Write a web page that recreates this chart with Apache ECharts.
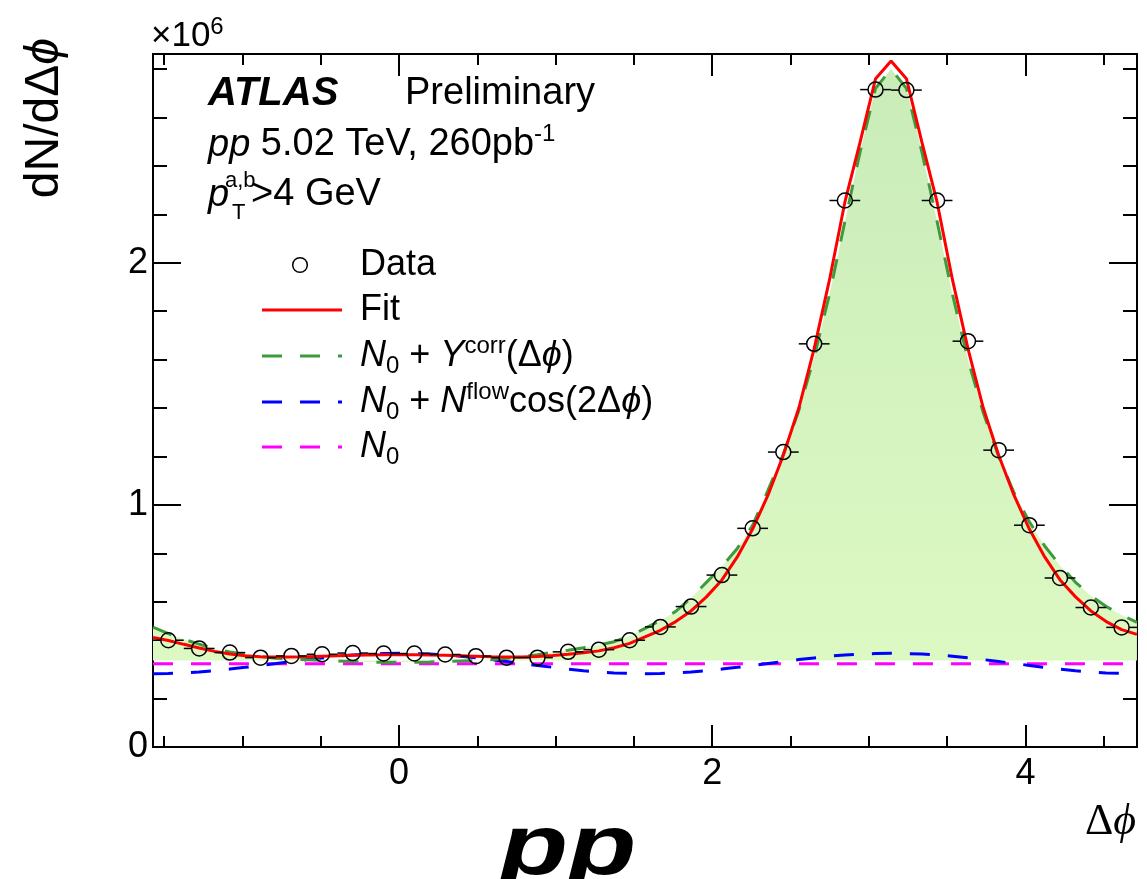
<!DOCTYPE html>
<html>
<head>
<meta charset="utf-8">
<script src="https://cdn.jsdelivr.net/npm/echarts@6.0.0/dist/echarts.min.js"></script>
<style>
  html, body { margin: 0; padding: 0; background: #fff; }
  #chart { width: 1147px; height: 879px; }
</style>
</head>
<body>
<div id="chart"></div>
<script>
// data points (bin centres of 32 bins in dphi)
const dataX = [-1.473, -1.276, -1.080, -0.884, -0.687, -0.491, -0.295, -0.098,
  0.098, 0.295, 0.491, 0.687, 0.884, 1.080, 1.276, 1.473,
  1.669, 1.865, 2.062, 2.258, 2.454, 2.651, 2.847, 3.043,
  3.240, 3.436, 3.633, 3.829, 4.025, 4.221, 4.418, 4.614];
const dataY = [0.441, 0.407, 0.390, 0.369, 0.376, 0.383, 0.388, 0.386,
  0.386, 0.382, 0.375, 0.369, 0.369, 0.393, 0.402, 0.441,
  0.496, 0.580, 0.710, 0.903, 1.218, 1.665, 2.257, 2.715,
  2.713, 2.257, 1.676, 1.226, 0.916, 0.698, 0.576, 0.494];
const binHalfWidth = 0.0982;

// curves at the same x positions
const curveX = [-1.571, -1.473, -1.374, -1.276, -1.178, -1.080, -0.982, -0.884,
  -0.785, -0.687, -0.589, -0.491, -0.393, -0.295, -0.196, -0.098,
  0.000, 0.098, 0.196, 0.295, 0.393, 0.491, 0.589, 0.687,
  0.785, 0.884, 0.982, 1.080, 1.178, 1.276, 1.374, 1.473,
  1.571, 1.669, 1.767, 1.865, 1.963, 2.062, 2.160, 2.258,
  2.356, 2.454, 2.553, 2.651, 2.749, 2.847, 2.945, 3.043,
  3.142, 3.240, 3.338, 3.436, 3.534, 3.633, 3.731, 3.829,
  3.927, 4.025, 4.123, 4.221, 4.320, 4.418, 4.516, 4.614, 4.712];
const fitY = [0.452, 0.440, 0.424, 0.409, 0.395, 0.384, 0.377, 0.373,
  0.372, 0.372, 0.373, 0.375, 0.377, 0.379, 0.380, 0.381,
  0.381, 0.381, 0.380, 0.379, 0.377, 0.375, 0.373, 0.372,
  0.372, 0.374, 0.378, 0.383, 0.389, 0.397, 0.410, 0.428,
  0.455, 0.482, 0.518, 0.562, 0.620, 0.690, 0.785, 0.900,
  1.040, 1.205, 1.400, 1.645, 1.930, 2.250, 2.500, 2.760,
  2.833, 2.760, 2.500, 2.250, 1.930, 1.645, 1.400, 1.205,
  1.040, 0.900, 0.785, 0.690, 0.620, 0.562, 0.518, 0.485, 0.465];
const corrY = [0.495, 0.468, 0.445, 0.425, 0.405, 0.392, 0.383, 0.374,
  0.367, 0.363, 0.360, 0.358, 0.355, 0.353, 0.351, 0.350,
  0.350, 0.350, 0.351, 0.353, 0.355, 0.357, 0.360, 0.366,
  0.373, 0.381, 0.391, 0.400, 0.410, 0.422, 0.435, 0.458,
  0.490, 0.522, 0.560, 0.615, 0.680, 0.745, 0.820, 0.915,
  1.060, 1.210, 1.390, 1.610, 1.870, 2.170, 2.460, 2.720,
  2.800, 2.720, 2.460, 2.170, 1.870, 1.600, 1.380, 1.200,
  1.050, 0.930, 0.830, 0.750, 0.680, 0.625, 0.580, 0.545, 0.515];
const flowY = [0.303, 0.304, 0.306, 0.310, 0.315, 0.322, 0.329, 0.337,
  0.345, 0.353, 0.361, 0.368, 0.375, 0.380, 0.384, 0.386,
  0.387, 0.386, 0.384, 0.380, 0.375, 0.368, 0.361, 0.353,
  0.345, 0.337, 0.329, 0.322, 0.315, 0.310, 0.306, 0.304,
  0.303, 0.304, 0.306, 0.310, 0.315, 0.322, 0.329, 0.337,
  0.345, 0.353, 0.361, 0.368, 0.375, 0.380, 0.384, 0.386,
  0.387, 0.386, 0.384, 0.380, 0.375, 0.368, 0.361, 0.353,
  0.345, 0.337, 0.329, 0.322, 0.315, 0.310, 0.306, 0.304, 0.303];
const n0X = [-1.571, 4.712];
const n0Y = [0.344, 0.344];
const fillBase = 0.357;

// axes
const X_MIN = -1.5708, X_MAX = 4.7124;
const Y_MIN = 0, Y_MAX = 2.862;
const xMajorTicks = [0, 2, 4];
const xMinorTicks = [-1.5, -1, -0.5, 0.5, 1, 1.5, 2.5, 3, 3.5, 4.5];
const yMajorTicks = [0, 1, 2];
const yMinorTicks = [0.2, 0.4, 0.6, 0.8, 1.2, 1.4, 1.6, 1.8, 2.2, 2.4, 2.6, 2.8];

const SANS = '"Liberation Sans", Arial, Helvetica, sans-serif';
const SERIF = '"Liberation Serif", "Times New Roman", serif';

const pairs = (xs, ys) => xs.map((x, i) => [x, ys[i]]);
const dash = [20, 18];

function xAx(pos, ticks, len, labels) {
  return {
    type: 'value', min: X_MIN, max: X_MAX, position: pos,
    axisLine: { show: true, onZero: false, lineStyle: { color: '#000', width: 2 } },
    axisTick: { show: true, inside: true, length: len, customValues: ticks,
      lineStyle: { color: '#000', width: 2 } },
    axisLabel: labels ? { show: true, customValues: ticks, margin: 9,
      fontSize: 36, color: '#000', fontFamily: SANS } : { show: false },
    splitLine: { show: false }
  };
}
function yAx(pos, ticks, len, labels) {
  return {
    type: 'value', min: Y_MIN, max: Y_MAX, position: pos,
    axisLine: { show: true, onZero: false, lineStyle: { color: '#000', width: 2 } },
    axisTick: { show: true, inside: true, length: len, customValues: ticks,
      lineStyle: { color: '#000', width: 2 } },
    axisLabel: labels ? { show: true, customValues: ticks, margin: 5,
      fontSize: 36, color: '#000', fontFamily: SANS } : { show: false },
    splitLine: { show: false }
  };
}

const chart = echarts.init(document.getElementById('chart'));

const legendRows = [
  { y: 310, color: '#ff0000', type: 'solid' },
  { y: 356, color: '#3d9b3d', type: dash },
  { y: 402, color: '#0000ff', type: dash },
  { y: 447, color: '#ff00ff', type: dash }
];
const richBase = {
  t: { fontSize: 36, fontFamily: SANS, lineHeight: 44, color: '#000' },
  i: { fontSize: 36, fontFamily: SANS, fontStyle: 'italic', lineHeight: 44, color: '#000' },
  sup: { fontSize: 24, fontFamily: SANS, lineHeight: 22, verticalAlign: 'top', color: '#000' },
  sub: { fontSize: 24, fontFamily: SANS, lineHeight: 22, verticalAlign: 'bottom', color: '#000' }
};
const richInfo = {
  t: { fontSize: 38, fontFamily: SANS, lineHeight: 46, color: '#000' },
  i: { fontSize: 38, fontFamily: SANS, fontStyle: 'italic', lineHeight: 46, color: '#000' },
  sup: { fontSize: 24, fontFamily: SANS, lineHeight: 22, verticalAlign: 'top', color: '#000' }
};
const legendTexts = [
  { y: 265, text: '{t|Data}' },
  { y: 310, text: '{t|Fit}' },
  { y: 356, text: '{i|N}{sub|0}{t| + }{i|Y}{sup|corr}{t|(Δ}{i|ϕ}{t|)}' },
  { y: 402, text: '{i|N}{sub|0}{t| + }{i|N}{sup|flow}{t|cos(2Δ}{i|ϕ}{t|)}' },
  { y: 447, text: '{i|N}{sub|0}' }
];

const graphics = [];
legendRows.forEach(r => graphics.push({
  type: 'line', silent: true,
  shape: { x1: 262, y1: r.y, x2: 342, y2: r.y },
  style: { stroke: r.color, lineWidth: 3, lineDash: r.type === 'solid' ? null : r.type }
}));
graphics.push({ type: 'circle', silent: true, shape: { cx: 300, cy: 265, r: 7.3 },
  style: { fill: 'none', stroke: '#000', lineWidth: 1.5 } });
legendTexts.forEach(r => graphics.push({
  type: 'text', silent: true, x: 360, y: r.y,
  style: { text: r.text, rich: richBase, verticalAlign: 'middle', align: 'left' }
}));

// labels
graphics.push(
  { type: 'text', silent: true, x: 151, y: 36,
    style: { text: '{t|×10}{sup|6}', verticalAlign: 'middle',
      rich: { t: { fontSize: 35, fontFamily: SANS, lineHeight: 42 },
        sup: { fontSize: 24, fontFamily: SANS, lineHeight: 22, verticalAlign: 'top' } } } },
  { type: 'text', silent: true, x: 45, y: 38, rotation: Math.PI / 2,
    style: { text: '{t|dN/dΔ}{i|ϕ}', align: 'right', verticalAlign: 'middle',
      rich: { t: { fontSize: 48, fontFamily: SANS }, i: { fontSize: 48, fontFamily: SANS, fontStyle: 'italic' } } } },
  { type: 'text', silent: true, x: 208, y: 94,
    style: { text: 'ATLAS', fontSize: 40, fontWeight: 'bold', fontStyle: 'italic',
      fontFamily: SANS, verticalAlign: 'middle', fill: '#000' } },
  { type: 'text', silent: true, x: 405, y: 94,
    style: { text: 'Preliminary', fontSize: 38, fontFamily: SANS, verticalAlign: 'middle', fill: '#000' } },
  { type: 'text', silent: true, x: 208, y: 145,
    style: { text: '{i|pp}{t| 5.02 TeV, 260pb}{sup|-1}', verticalAlign: 'middle', rich: richInfo } },
  { type: 'text', silent: true, x: 208, y: 195,
    style: { text: 'p', fontSize: 38, fontStyle: 'italic', fontFamily: SANS, verticalAlign: 'middle', fill: '#000' } },
  { type: 'text', silent: true, x: 225, y: 181,
    style: { text: 'a,b', fontSize: 22, fontFamily: SANS, verticalAlign: 'middle', fill: '#000' } },
  { type: 'text', silent: true, x: 232, y: 213,
    style: { text: 'T', fontSize: 22, fontFamily: SANS, verticalAlign: 'middle', fill: '#000' } },
  { type: 'text', silent: true, x: 251, y: 195,
    style: { text: '>4 GeV', fontSize: 38, fontFamily: SANS, verticalAlign: 'middle', fill: '#000' } },
  { type: 'text', silent: true, x: 1136, y: 822,
    style: { text: '{t|Δ}{i|ϕ}', align: 'right', verticalAlign: 'middle',
      rich: { t: { fontSize: 44, fontFamily: SERIF }, i: { fontSize: 44, fontFamily: SERIF, fontStyle: 'italic' } } } },
  { type: 'text', silent: true, x: 568, y: 850, scaleX: 1.3,
    style: { text: 'pp', fontSize: 86, fontWeight: 'bold', fontStyle: 'italic', fontFamily: SANS,
      align: 'center', verticalAlign: 'middle', fill: '#000' } }
);

const option = {
  animation: false,
  backgroundColor: '#fff',
  grid: { left: 153, right: 10, top: 54, bottom: 132, containLabel: false },
  xAxis: [
    xAx('bottom', xMajorTicks, 22, true),
    xAx('bottom', xMinorTicks, 11, false),
    xAx('top', xMajorTicks, 22, false),
    xAx('top', xMinorTicks, 11, false)
  ],
  yAxis: [
    yAx('left', yMajorTicks, 28, true),
    yAx('left', yMinorTicks, 14, false),
    yAx('right', yMajorTicks, 28, false),
    yAx('right', yMinorTicks, 14, false)
  ],
  graphic: graphics,
  series: [
    {
      name: 'fill', type: 'line', data: pairs(curveX, corrY), symbol: 'none', silent: true, z: 1,
      lineStyle: { width: 0, opacity: 0 },
      areaStyle: {
        origin: fillBase,
        opacity: 1,
        color: new echarts.graphic.LinearGradient(0, 0, 0, 1, [
          { offset: 0, color: '#c9ecb9' }, { offset: 1, color: '#ddf9c3' }
        ])
      }
    },
    {
      name: 'N0', type: 'line', data: pairs(n0X, n0Y), symbol: 'none', silent: true, z: 2,
      lineStyle: { color: '#ff00ff', width: 3, type: dash }
    },
    {
      name: 'N0 + Nflow cos', type: 'line', data: pairs(curveX, flowY), symbol: 'none', silent: true, z: 3,
      lineStyle: { color: '#0000ff', width: 3, type: dash }
    },
    {
      name: 'N0 + Ycorr', type: 'line', data: pairs(curveX, corrY), symbol: 'none', silent: true, z: 4,
      lineStyle: { color: '#3d9b3d', width: 3, type: dash }
    },
    {
      name: 'Fit', type: 'line', data: pairs(curveX, fitY), symbol: 'none', silent: true, z: 5,
      lineStyle: { color: '#ff0000', width: 3 }
    },
    {
      name: 'Data', type: 'custom', data: pairs(dataX, dataY), silent: true, z: 6,
      renderItem: function (params, api) {
        const x = api.value(0), y = api.value(1);
        const c = api.coord([x, y]);
        const l = api.coord([x - binHalfWidth, y]);
        const r = api.coord([x + binHalfWidth, y]);
        const rad = 7.5;
        const st = { stroke: '#000', lineWidth: 1.5, fill: 'none' };
        return {
          type: 'group',
          children: [
            { type: 'line', shape: { x1: l[0], y1: c[1], x2: c[0] - rad, y2: c[1] }, style: st },
            { type: 'line', shape: { x1: c[0] + rad, y1: c[1], x2: r[0], y2: c[1] }, style: st },
            { type: 'circle', shape: { cx: c[0], cy: c[1], r: rad }, style: st }
          ]
        };
      }
    }
  ]
};
chart.setOption(option);
</script>
</body>
</html>
